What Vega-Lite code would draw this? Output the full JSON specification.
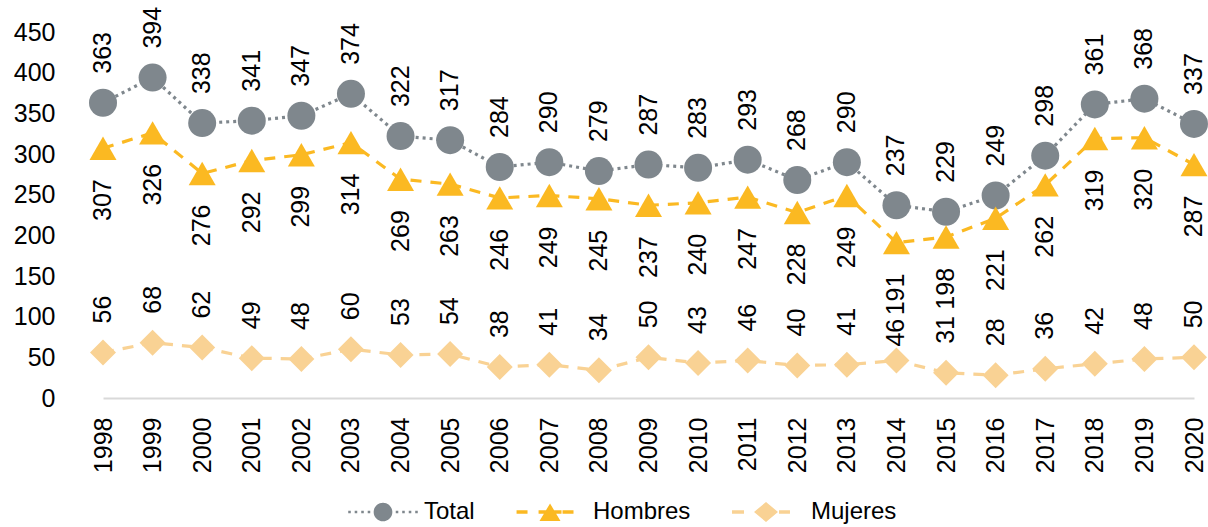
{
  "$schema": "https://vega.github.io/schema/vega-lite/v6.json",
  "width": 1129,
  "height": 366,
  "autosize": "none",
  "padding": {"left": 79, "top": 32, "right": 0, "bottom": 129},
  "background": "white",
  "config": {"view": {"stroke": null}, "font": "Liberation Sans"},
  "data": {"values": [
    {"year": "1998", "serie": "Total", "value": 363},
    {"year": "1999", "serie": "Total", "value": 394},
    {"year": "2000", "serie": "Total", "value": 338},
    {"year": "2001", "serie": "Total", "value": 341},
    {"year": "2002", "serie": "Total", "value": 347},
    {"year": "2003", "serie": "Total", "value": 374},
    {"year": "2004", "serie": "Total", "value": 322},
    {"year": "2005", "serie": "Total", "value": 317},
    {"year": "2006", "serie": "Total", "value": 284},
    {"year": "2007", "serie": "Total", "value": 290},
    {"year": "2008", "serie": "Total", "value": 279},
    {"year": "2009", "serie": "Total", "value": 287},
    {"year": "2010", "serie": "Total", "value": 283},
    {"year": "2011", "serie": "Total", "value": 293},
    {"year": "2012", "serie": "Total", "value": 268},
    {"year": "2013", "serie": "Total", "value": 290},
    {"year": "2014", "serie": "Total", "value": 237},
    {"year": "2015", "serie": "Total", "value": 229},
    {"year": "2016", "serie": "Total", "value": 249},
    {"year": "2017", "serie": "Total", "value": 298},
    {"year": "2018", "serie": "Total", "value": 361},
    {"year": "2019", "serie": "Total", "value": 368},
    {"year": "2020", "serie": "Total", "value": 337},
    {"year": "1998", "serie": "Hombres", "value": 307},
    {"year": "1999", "serie": "Hombres", "value": 326},
    {"year": "2000", "serie": "Hombres", "value": 276},
    {"year": "2001", "serie": "Hombres", "value": 292},
    {"year": "2002", "serie": "Hombres", "value": 299},
    {"year": "2003", "serie": "Hombres", "value": 314},
    {"year": "2004", "serie": "Hombres", "value": 269},
    {"year": "2005", "serie": "Hombres", "value": 263},
    {"year": "2006", "serie": "Hombres", "value": 246},
    {"year": "2007", "serie": "Hombres", "value": 249},
    {"year": "2008", "serie": "Hombres", "value": 245},
    {"year": "2009", "serie": "Hombres", "value": 237},
    {"year": "2010", "serie": "Hombres", "value": 240},
    {"year": "2011", "serie": "Hombres", "value": 247},
    {"year": "2012", "serie": "Hombres", "value": 228},
    {"year": "2013", "serie": "Hombres", "value": 249},
    {"year": "2014", "serie": "Hombres", "value": 191},
    {"year": "2015", "serie": "Hombres", "value": 198},
    {"year": "2016", "serie": "Hombres", "value": 221},
    {"year": "2017", "serie": "Hombres", "value": 262},
    {"year": "2018", "serie": "Hombres", "value": 319},
    {"year": "2019", "serie": "Hombres", "value": 320},
    {"year": "2020", "serie": "Hombres", "value": 287},
    {"year": "1998", "serie": "Mujeres", "value": 56},
    {"year": "1999", "serie": "Mujeres", "value": 68},
    {"year": "2000", "serie": "Mujeres", "value": 62},
    {"year": "2001", "serie": "Mujeres", "value": 49},
    {"year": "2002", "serie": "Mujeres", "value": 48},
    {"year": "2003", "serie": "Mujeres", "value": 60},
    {"year": "2004", "serie": "Mujeres", "value": 53},
    {"year": "2005", "serie": "Mujeres", "value": 54},
    {"year": "2006", "serie": "Mujeres", "value": 38},
    {"year": "2007", "serie": "Mujeres", "value": 41},
    {"year": "2008", "serie": "Mujeres", "value": 34},
    {"year": "2009", "serie": "Mujeres", "value": 50},
    {"year": "2010", "serie": "Mujeres", "value": 43},
    {"year": "2011", "serie": "Mujeres", "value": 46},
    {"year": "2012", "serie": "Mujeres", "value": 40},
    {"year": "2013", "serie": "Mujeres", "value": 41},
    {"year": "2014", "serie": "Mujeres", "value": 46},
    {"year": "2015", "serie": "Mujeres", "value": 31},
    {"year": "2016", "serie": "Mujeres", "value": 28},
    {"year": "2017", "serie": "Mujeres", "value": 36},
    {"year": "2018", "serie": "Mujeres", "value": 42},
    {"year": "2019", "serie": "Mujeres", "value": 48},
    {"year": "2020", "serie": "Mujeres", "value": 50}
  ]},
  "encoding": {
    "x": {
      "field": "year", "type": "ordinal",
      "scale": {"type": "point", "range": [24, 1115], "padding": 0},
      "axis": {"title": null, "labelAngle": -90, "labelFontSize": 25, "labelColor": "black", "labelFont": "Liberation Sans", "ticks": false, "tickSize": 0, "labelPadding": 19, "domain": false, "grid": false}
    },
    "y": {
      "field": "value", "type": "quantitative",
      "scale": {"domain": [0, 450]},
      "axis": {"title": null, "values": [0, 50, 100, 150, 200, 250, 300, 350, 400, 450], "labelFontSize": 25, "labelColor": "black", "labelFont": "Liberation Sans", "domain": false, "ticks": false, "tickSize": 0, "labelPadding": 24,
        "grid": true, "gridWidth": 2, "gridColor": {"condition": {"test": "datum.value === 0", "value": "#D9D9D9"}, "value": "transparent"}}
    }
  },
  "layer": [
    {
      "mark": {"type": "line", "strokeWidth": 3.2},
      "encoding": {
        "color": {
          "field": "serie", "type": "nominal",
          "scale": {"domain": ["Total", "Hombres", "Mujeres"], "range": ["#7F878D", "#FBB922", "#F9D294"]},
          "legend": {
            "title": null, "orient": "none", "legendX": 292, "legendY": 468, "direction": "horizontal",
            "labelFontSize": 24, "labelColor": "black", "labelFont": "Liberation Sans",
            "symbolSize": 289, "labelOffset": 29, "columnPadding": 41, "symbolStrokeWidth": 0,
            "encode": {"symbols": {"update": {
              "shape": {"signal": "datum.value === 'Total' ? 'M-4.09,-0.15h0.3v0.3h-0.3zM-3.33,-0.15h0.3v0.3h-0.3zM-2.56,-0.15h0.3v0.3h-0.3zM-1.8,-0.15h0.3v0.3h-0.3zM1.5,-0.15h0.3v0.3h-0.3zM2.26,-0.15h0.3v0.3h-0.3zM3.03,-0.15h0.3v0.3h-0.3zM3.79,-0.15h0.3v0.3h-0.3zM1.1,0A1.1,1.1,0,1,1,-1.1,0A1.1,1.1,0,1,1,1.1,0Z' : datum.value === 'Hombres' ? 'M-4.17,-0.2h1.29v0.4h-1.29zM-1.58,-0.2h2.7v0.4h-2.7zM1.24,-0.2h1.29v0.4h-1.29zM-0.23,-1.0L1.0,1.06L-1.47,1.06Z' : 'M-4.47,-0.2h1.41v0.4h-1.41zM1.06,-0.2h1.29v0.4h-1.29zM-0.47,-1.18L0.94,0L-0.47,1.18L-1.88,0Z'"},
              "fill": {"scale": "color", "field": "value"},
              "stroke": {"value": "transparent"},
              "strokeWidth": {"value": 0},
              "opacity": {"value": 1},
              "fillOpacity": {"value": 1}
            }}}
          }
        },
        "strokeDash": {
          "field": "serie", "type": "nominal",
          "scale": {"domain": ["Total", "Hombres", "Mujeres"], "range": [[3, 4], [11, 9], [11, 9]]},
          "legend": null
        }
      }
    },
    {
      "transform": [{"filter": "datum.serie === 'Total'"}],
      "mark": {"type": "point", "filled": true, "opacity": 1, "size": 784, "shape": "circle", "color": "#7F878D"}
    },
    {
      "transform": [{"filter": "datum.serie === 'Hombres'"}],
      "mark": {"type": "point", "filled": true, "opacity": 1, "size": 729, "shape": "triangle-up", "color": "#FBB922"}
    },
    {
      "transform": [{"filter": "datum.serie === 'Mujeres'"}],
      "mark": {"type": "point", "filled": true, "opacity": 1, "size": 676, "shape": "diamond", "color": "#F9D294"}
    },
    {
      "transform": [{"filter": "datum.serie === 'Total'"}],
      "mark": {"type": "text", "angle": -90, "align": "left", "baseline": "middle", "dx": 29, "fontSize": 25, "font": "Liberation Sans", "color": "black"},
      "encoding": {"text": {"field": "value", "type": "quantitative"}}
    },
    {
      "transform": [{"filter": "datum.serie === 'Hombres'"}],
      "mark": {"type": "text", "angle": -90, "align": "right", "baseline": "middle", "dx": -31, "fontSize": 25, "font": "Liberation Sans", "color": "black"},
      "encoding": {"text": {"field": "value", "type": "quantitative"}}
    },
    {
      "transform": [{"filter": "datum.serie === 'Mujeres' && datum.year !== '2014'"}],
      "mark": {"type": "text", "angle": -90, "align": "left", "baseline": "middle", "dx": 29, "fontSize": 25, "font": "Liberation Sans", "color": "black"},
      "encoding": {"text": {"field": "value", "type": "quantitative"}}
    },
    {
      "transform": [{"filter": "datum.serie === 'Mujeres' && datum.year === '2014'"}],
      "mark": {"type": "text", "angle": -90, "align": "left", "baseline": "middle", "dx": 14, "fontSize": 25, "font": "Liberation Sans", "color": "black"},
      "encoding": {"text": {"field": "value", "type": "quantitative"}}
    }
  ]
}
